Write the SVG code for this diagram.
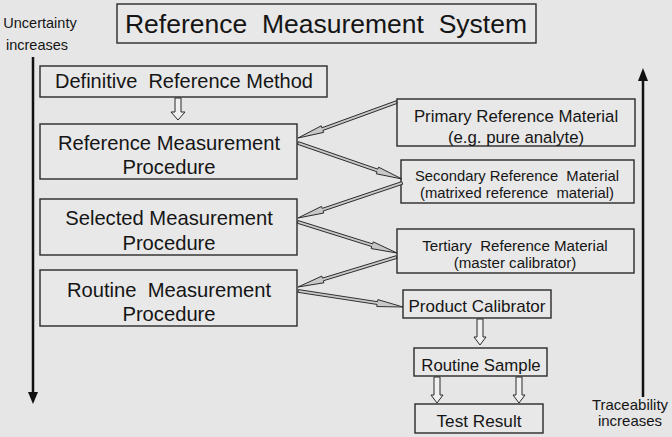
<svg xmlns="http://www.w3.org/2000/svg" width="672" height="437" viewBox="0 0 672 437">
<style>
.box{fill:#e8e8e8;stroke:#2a2a2a;stroke-width:1.4}
.t{font-family:"Liberation Sans",Arial,sans-serif;fill:#151515;text-anchor:middle;white-space:pre}
.conn{fill:#c8c8c8;stroke:#2a2a2a;stroke-width:0.9;stroke-linejoin:miter}
.blk{fill:#f0f0f0;stroke:#2a2a2a;stroke-width:1}
.axis{stroke:#111;stroke-width:2.5}
</style>
<rect width="672" height="437" fill="#e6e6e6"/>

<g id="title">
<rect class="box" x="117" y="4" width="419" height="39"/>
<text class="t" x="326" y="33" font-size="26.5">Reference  Measurement  System</text>
</g>

<g id="uncertainty">
<text class="t" x="40" y="28" font-size="14.5">Uncertainty</text>
<text class="t" x="37" y="50" font-size="14.5">increases</text>
<line class="axis" x1="33" y1="57" x2="33" y2="394"/>
<polygon points="28,392 38,392 33,404" fill="#111"/>
</g>

<g id="traceability">
<line class="axis" x1="643" y1="79" x2="643" y2="397"/>
<polygon points="638,81 648,81 643,68" fill="#111"/>
<text class="t" x="630" y="410" font-size="15">Traceability</text>
<text class="t" x="630" y="426" font-size="15">increases</text>
</g>

<g id="definitive">
<rect class="box" x="40" y="66" width="287" height="31"/>
<text class="t" x="184" y="88" font-size="20">Definitive  Reference Method</text>
</g>

<g id="refproc">
<rect class="box" x="40" y="124" width="257" height="55"/>
<text class="t" x="169" y="150" font-size="20.2">Reference Measurement</text>
<text class="t" x="169" y="174" font-size="20.2">Procedure</text>
</g>

<g id="selproc">
<rect class="box" x="40" y="199" width="257" height="56"/>
<text class="t" x="169" y="225" font-size="20.2">Selected Measurement</text>
<text class="t" x="169" y="250" font-size="20.2">Procedure</text>
</g>

<g id="routproc">
<rect class="box" x="40" y="270" width="257" height="56"/>
<text class="t" x="169" y="297" font-size="20.2">Routine  Measurement</text>
<text class="t" x="169" y="321" font-size="20.2">Procedure</text>
</g>

<g id="primary">
<rect class="box" x="397" y="99" width="238" height="47"/>
<text class="t" x="516" y="122" font-size="16.8">Primary Reference Material</text>
<text class="t" x="516" y="143" font-size="16.8">(e.g. pure analyte)</text>
</g>

<g id="secondary">
<rect class="box" x="401" y="160" width="233" height="43"/>
<text class="t" x="517" y="181" font-size="14.8">Secondary Reference  Material</text>
<text class="t" x="517" y="198" font-size="14.8">(matrixed reference  material)</text>
</g>

<g id="tertiary">
<rect class="box" x="397" y="229" width="237" height="44"/>
<text class="t" x="515" y="251" font-size="15.1">Tertiary  Reference Material</text>
<text class="t" x="515" y="268" font-size="15.1">(master calibrator)</text>
</g>

<g id="product">
<rect class="box" x="403" y="290" width="148" height="28"/>
<text class="t" x="477" y="312" font-size="17">Product Calibrator</text>
</g>

<g id="sample">
<rect class="box" x="414" y="348" width="133" height="28"/>
<text class="t" x="481" y="371" font-size="16.8">Routine Sample</text>
</g>

<g id="result">
<rect class="box" x="415" y="404" width="128" height="29"/>
<text class="t" x="479" y="427" font-size="17.2">Test Result</text>
</g>

<g id="connectors">
<path class="conn" transform="translate(298,138) rotate(160)" d="M0,0 L-26,3.5 L-26,1.4 L-105,1.4 L-105,-1.4 L-26,-1.4 L-26,-3.5 Z"/>
<path class="conn" transform="translate(402,179) rotate(19.1)" d="M0,0 L-26,3.5 L-26,1.4 L-110,1.4 L-110,-1.4 L-26,-1.4 L-26,-3.5 Z"/>
<path class="conn" transform="translate(298,218) rotate(161.4)" d="M0,0 L-26,3.5 L-26,1.4 L-110,1.4 L-110,-1.4 L-26,-1.4 L-26,-3.5 Z"/>
<path class="conn" transform="translate(397,253) rotate(17.4)" d="M0,0 L-26,3.5 L-26,1.4 L-104,1.4 L-104,-1.4 L-26,-1.4 L-26,-3.5 Z"/>
<path class="conn" transform="translate(298,287) rotate(163.1)" d="M0,0 L-26,3.5 L-26,1.4 L-103,1.4 L-103,-1.4 L-26,-1.4 L-26,-3.5 Z"/>
<path class="conn" transform="translate(403,307) rotate(8.7)" d="M0,0 L-26,3.5 L-26,1.4 L-106,1.4 L-106,-1.4 L-26,-1.4 L-26,-3.5 Z"/>
<path class="blk" d="M175,98 L181,98 L181,112 L185,112 L178,120 L171,112 L175,112 Z"/>
<path class="blk" d="M477,319 L483,319 L483,337 L486,337 L480,345 L474,337 L477,337 Z"/>
<path class="blk" d="M434,377 L440,377 L440,395 L443,395 L437,403 L431,395 L434,395 Z"/>
<path class="blk" d="M516,377 L522,377 L522,395 L525,395 L519,403 L513,395 L516,395 Z"/>
</g>
</svg>
